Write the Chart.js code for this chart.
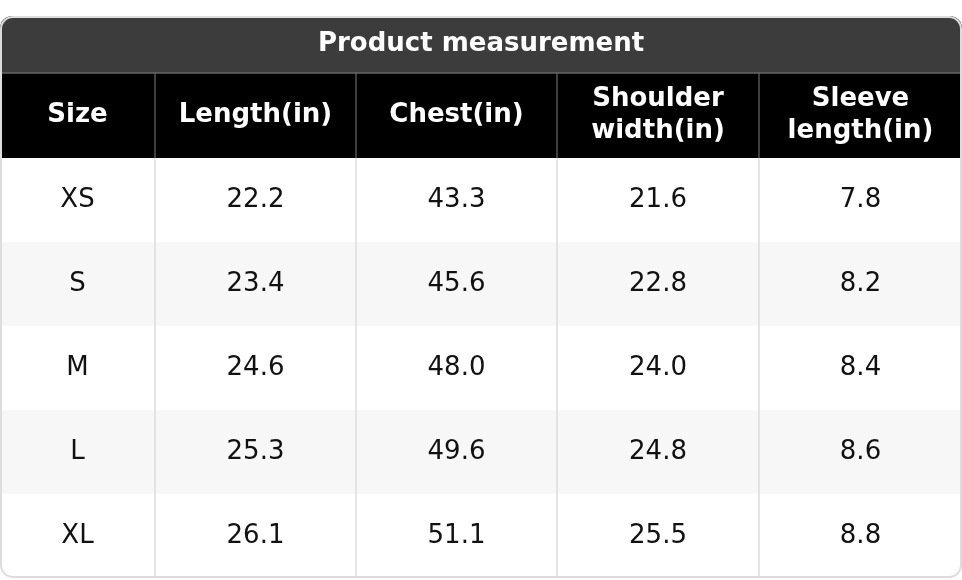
<!DOCTYPE html>
<html>
<head>
<meta charset="utf-8">
<script src="https://cdn.jsdelivr.net/npm/chart.js@4"></script>
<style>
html, body { margin: 0; padding: 0; background: #fff; }
#wrap { width: 962px; height: 580px; }
</style>
</head>
<body>
<div id="wrap"><canvas id="chart"></canvas></div>
<script>
const title = 'Product measurement';
const headers = [['Size'], ['Length(in)'], ['Chest(in)'], ['Shoulder', 'width(in)'], ['Sleeve', 'length(in)']];
const sizes = ['XS', 'S', 'M', 'L', 'XL'];
const lengths = ['22.2', '23.4', '24.6', '25.3', '26.1'];
const chest = ['43.3', '45.6', '48.0', '49.6', '51.1'];
const shoulder = ['21.6', '22.8', '24.0', '24.8', '25.5'];
const sleeve = ['7.8', '8.2', '8.4', '8.6', '8.8'];

// layout in scale units (0..962 by 0..580)
const colEdges = [0, 155, 356, 557, 759, 962];
const titleTop = 16, headTop = 73, bodyTop = 158, rowH = 84;

const tablePlugin = {
    id: 'table',
    afterDraw(chart) {
        const ctx = chart.ctx;
        const x = chart.scales.x, y = chart.scales.y;
        const px = v => x.getPixelForValue(v);
        const py = v => y.getPixelForValue(v);
        const left = px(0), right = px(962);
        const columns = [sizes, lengths, chest, shoulder, sleeve];
        const bottom = bodyTop + rowH * sizes.length;
        ctx.save();
        // outer clip with rounded corners
        ctx.beginPath();
        ctx.roundRect(left, py(titleTop), right - left, py(bottom) - py(titleTop), 12);
        ctx.clip();
        ctx.fillStyle = '#3c3c3c';
        ctx.fillRect(left, py(titleTop), right - left, py(headTop) - py(titleTop));
        ctx.fillStyle = '#000';
        ctx.fillRect(left, py(headTop), right - left, py(bodyTop) - py(headTop));
        sizes.forEach((s, r) => {
            ctx.fillStyle = r % 2 ? '#f7f7f7' : '#fff';
            ctx.fillRect(left, py(bodyTop + r * rowH), right - left, rowH);
        });
        // grid lines
        ctx.lineWidth = 1.5;
        for (let c = 1; c < colEdges.length - 1; c++) {
            ctx.strokeStyle = '#555';
            ctx.beginPath();
            ctx.moveTo(px(colEdges[c]), py(headTop));
            ctx.lineTo(px(colEdges[c]), py(bodyTop));
            ctx.stroke();
            ctx.strokeStyle = '#dddddd';
            ctx.beginPath();
            ctx.moveTo(px(colEdges[c]), py(bodyTop));
            ctx.lineTo(px(colEdges[c]), py(bottom));
            ctx.stroke();
        }
        ctx.strokeStyle = '#666';
        ctx.beginPath();
        ctx.moveTo(left, py(headTop));
        ctx.lineTo(right, py(headTop));
        ctx.stroke();
        ctx.restore();
        // border
        ctx.save();
        ctx.strokeStyle = '#dddddd';
        ctx.lineWidth = 2;
        ctx.beginPath();
        ctx.roundRect(left + 1, py(titleTop) + 1, right - left - 2, py(bottom) - py(titleTop) - 2, 12);
        ctx.stroke();
        // text
        ctx.textAlign = 'center';
        ctx.textBaseline = 'middle';
        ctx.fillStyle = '#fff';
        ctx.font = 'bold 26px "DejaVu Sans"';
        ctx.fillText(title, (left + right) / 2, py((titleTop + headTop) / 2));
        ctx.font = 'bold 26px "DejaVu Sans"';
        headers.forEach((lines, c) => {
            const cx = (px(colEdges[c]) + px(colEdges[c + 1])) / 2;
            const cy = py((headTop + bodyTop) / 2);
            lines.forEach((t, i) => {
                ctx.fillText(t, cx, cy + (i - (lines.length - 1) / 2) * 32);
            });
        });
        ctx.fillStyle = '#111';
        ctx.font = '26px "DejaVu Sans"';
        columns.forEach((col, c) => {
            const cx = (px(colEdges[c]) + px(colEdges[c + 1])) / 2;
            col.forEach((v, r) => {
                ctx.fillText(v, cx, py(bodyTop + r * rowH + rowH / 2));
            });
        });
        ctx.restore();
    }
};

new Chart(document.getElementById('chart').getContext('2d'), {
    type: 'scatter',
    data: { datasets: [{ data: [] }] },
    options: {
        responsive: true,
        maintainAspectRatio: false,
        animation: false,
        layout: { padding: 0 },
        plugins: { legend: { display: false }, tooltip: { enabled: false } },
        scales: {
            x: { type: 'linear', min: 0, max: 962, display: false },
            y: { type: 'linear', min: 0, max: 580, reverse: true, display: false }
        }
    },
    plugins: [tablePlugin]
});
</script>
</body>
</html>
